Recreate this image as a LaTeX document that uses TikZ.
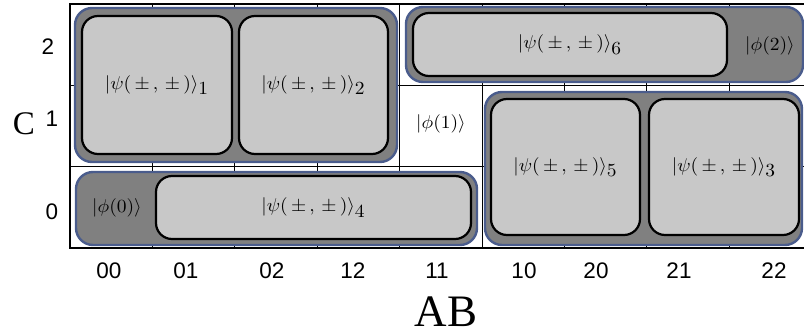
\documentclass[tikz,border=0pt]{standalone}
\usepackage{amsmath, amssymb}
\usepackage{fontspec}
\setmainfont{Liberation Serif}
\newfontfamily\labfont{Liberation Sans}
\usetikzlibrary{
	backgrounds,
	calc,
	positioning,
}
\definecolor{blobblue}{RGB}{74,92,140}
\definecolor{blobdark}{RGB}{128,128,128}
\definecolor{boxlight}{RGB}{200,200,200}
\newcommand{\wket}[1]{\scalebox{1.95}[1.85]{$#1$}}
\newcommand{\psiket}[1]{\wket{|\psi(\,\pm\,,\,\pm\,)\rangle_{\textstyle #1}}}
\tikzset{
	blob/.style={draw=blobblue, line width=2.4pt, fill=blobdark, rounded corners=17pt, inner sep=0pt},
	cell/.style={draw=black, line width=2.2pt, fill=boxlight, rounded corners=16pt, inner sep=0pt},
	axislabel/.style={font=\labfont\fontsize{22.5}{26}\selectfont},
	bigletter/.style={font=\fontsize{45}{48}\selectfont},
}

\begin{document}
\begin{tikzpicture}[x=1pt, y=-1pt]
	\useasboundingbox (0,0) rectangle (804,335);
	\foreach \i in {1,...,8}
		\draw[line width=0.9pt] ({70+82.4*\i},4) -- ({70+82.4*\i},248);
	\foreach \j in {85.3,166.7}
		\draw[line width=0.9pt] (70,\j) -- (804,\j);
	\draw[line width=1.4pt] (804,4) -- (70,4) -- (70,248) -- (804,248);
	\node[blob, minimum width=322pt, minimum height=154pt] (grpA) at (236,85) {};
	\node[blob, minimum width=401pt, minimum height=73pt] (grpB) at (276.5,208.5) {};
	\node[blob, minimum width=397pt, minimum height=75pt] (grpC) at (604.5,44.5) {};
	\node[blob, minimum width=317pt, minimum height=153pt] (grpD) at (643.5,168.5) {};
	\node[cell, minimum width=150pt, minimum height=138pt] (psi1) at (157,85) {\psiket{1}};
	\node[cell, minimum width=149pt, minimum height=138pt] (psi2) at (313.5,85) {\psiket{2}};
	\node[cell, minimum width=315pt, minimum height=63pt] (psi4) at (313.5,207.5) {\psiket{4}};
	\node[cell, minimum width=314pt, minimum height=63pt] (psi6) at (570,44.5) {\psiket{6}};
	\node[cell, minimum width=149pt, minimum height=136pt] (psi5) at (565.5,167) {\psiket{5}};
	\node[cell, minimum width=150pt, minimum height=136pt] (psi3) at (724,167) {\psiket{3}};
	\node (phi0) at (117,208) {\wket{|\phi(0)\rangle}};
	\node (phi1) at (441,124) {\wket{|\phi(1)\rangle}};
	\node (phi2) at (770,46) {\wket{|\phi(2)\rangle}};
	\node[axislabel] (row2) at (48,47) {2};
	\node[axislabel] (row1) at (52,119) {1};
	\node[axislabel] (row0) at (52,212) {0};
	\node[bigletter, font=\fontsize{33}{36}\selectfont] (Clab) at (24,124) {C};
	\foreach \lab/\xpos in {00/109,01/186,02/272,12/353,11/437,10/524,20/596,21/679,22/774}
		\node[axislabel] (col\lab) at (\xpos,271) {\lab};
	\node[bigletter] (ABlab) at (446,312) {AB};
\end{tikzpicture}
\end{document}
